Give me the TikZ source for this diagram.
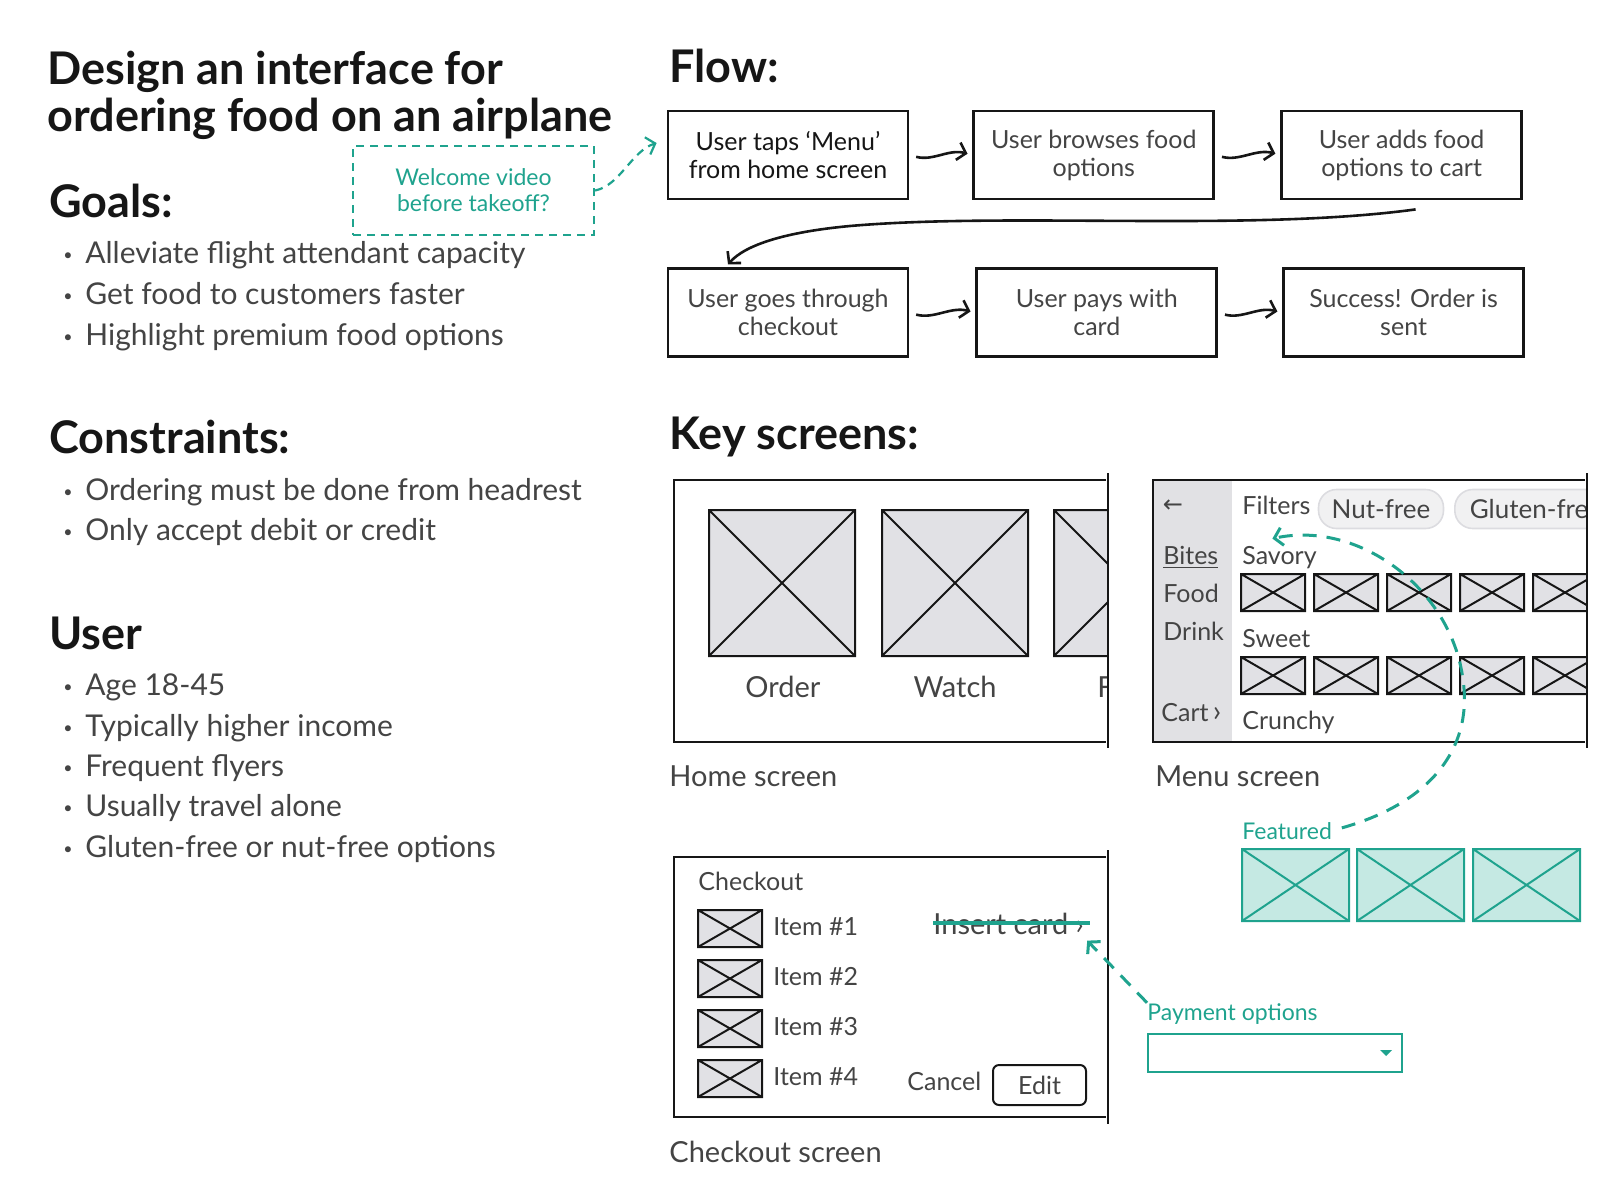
\documentclass[tikz,border=0pt]{standalone}
\usepackage{fontspec}
\setmainfont{Lato}
\newfontfamily\symbolfont{DejaVu Sans}
\usepackage{tikz}
\usetikzlibrary{arrows.meta,positioning,calc}
\definecolor{ink}{HTML}{161616}
\definecolor{softink}{HTML}{444444}
\definecolor{accentteal}{HTML}{1FA38E}
\definecolor{tealfill}{HTML}{C5E9E3}
\definecolor{thumbgray}{HTML}{E1E1E5}
\definecolor{sidegray}{HTML}{E1E1E4}
\definecolor{chipgray}{HTML}{F1F1F2}
\definecolor{chipline}{HTML}{DCDCE0}
\tikzset{
  heading/.style={anchor=base west, inner sep=0pt, text=ink, font=\fontsize{22.5}{27}\selectfont\bfseries},
  bulletitem/.style={anchor=base west, inner sep=0pt, text=softink, font=\fontsize{15}{18}\selectfont},
  screenlabel/.style={anchor=base west, inner sep=0pt, text=softink, font=\fontsize{14.5}{17}\selectfont},
  uitext/.style={anchor=base west, inner sep=0pt, text=softink, font=\fontsize{12.5}{15}\selectfont},
  tealtext/.style={anchor=base west, inner sep=0pt, text=accentteal, font=\fontsize{11.5}{14}\selectfont},
  flowbox/.style={draw=ink, line width=1.4pt, align=center, text=softink, inner sep=2pt, minimum width=120pt, minimum height=44pt, font=\fontsize{12.5}{14}\selectfont},
  notebox/.style={draw=accentteal, line width=1.1pt, dash pattern=on 4pt off 3pt, align=center, text=accentteal, font=\fontsize{11.5}{13}\selectfont},
  chip/.style={draw=chipline, fill=chipgray, line width=0.8pt, rounded corners=9pt, text=softink, minimum height=19.5pt, font=\fontsize{13}{15}\selectfont},
  button/.style={draw=ink, line width=1pt, rounded corners=3pt, text=softink, minimum width=46.5pt, minimum height=20pt, font=\fontsize{12.5}{15}\selectfont},
  dropbox/.style={draw=accentteal, line width=1pt, fill=white, minimum width=127pt, minimum height=19pt},
  flowarrow/.style={-{Straight Barb[length=4pt,width=9pt]}, line width=1.3pt, draw=ink},
  tealarrow/.style={-{Straight Barb[length=4pt,width=9pt]}, line width=1.5pt, draw=accentteal, dash pattern=on 7pt off 5pt},
  strike/.style={draw=accentteal, line width=2pt},
  frame/.style={draw=ink, line width=1.4pt},
  thumb/.style={draw=ink, fill=thumbgray, line width=1pt},
  featthumb/.style={draw=accentteal, fill=tealfill, line width=1pt}
}

\begin{document}
\begin{tikzpicture}[x=0.5pt, y=-0.5pt]
  \useasboundingbox (0,0) rectangle (1600,1200);

  % brief
  \node[heading] (title1) at (47,84) {Design an interface for};
  \node[heading] (title2) at (47,131) {ordering food on an airplane};

  \node[heading] (goals) at (49,217) {Goals:};
  \foreach \y/\txt [count=\i] in {263/Alleviate flight attendant capacity,304/Get food to customers faster,345/Highlight premium food options}
    \node[bulletitem] (goal\i) at (63,\y) {\makebox[11pt][l]{\raisebox{1.5pt}{\fontsize{8}{8}\selectfont\textbullet}}\txt};

  \node[heading] (constraints) at (49,453) {Constraints:};
  \foreach \y/\txt [count=\i] in {500/Ordering must be done from headrest,540/Only accept debit or credit}
    \node[bulletitem] (limit\i) at (63,\y) {\makebox[11pt][l]{\raisebox{1.5pt}{\fontsize{8}{8}\selectfont\textbullet}}\txt};

  \node[heading] (user) at (49,649) {User};
  \foreach \y/\txt [count=\i] in {695/Age 18-45,736/Typically higher income,776/Frequent flyers,816/Usually travel alone,857/Gluten-free or nut-free options}
    \node[bulletitem] (persona\i) at (63,\y) {\makebox[11pt][l]{\raisebox{1.5pt}{\fontsize{8}{8}\selectfont\textbullet}}\txt};

  \node[notebox, minimum width=120.5pt, minimum height=44.5pt] (welcome) at (473.5,190.5) {Welcome video\\before takeoff?};

  % flow
  \node[heading] (flow) at (669,82) {Flow:};
  \node[flowbox, text=ink] (taps) at (788,155) {User taps ‘Menu’\\from home screen};
  \node[flowbox, right=31.5pt of taps] (browse) {User browses food\\options};
  \node[flowbox, right=32.5pt of browse] (addcart) {User adds food\\options to cart};
  \node[flowbox, below=33.5pt of taps] (checkout) {User goes through\\checkout};
  \node[flowbox, right=33pt of checkout] (pays) {User pays with\\card};
  \node[flowbox, right=32pt of pays] (success) {Success! Order is\\sent};

  \draw[flowarrow, shorten <=3.5pt, shorten >=2.5pt] (taps.east) to[out=-15,in=165] (browse.west);
  \draw[flowarrow, shorten <=3.5pt, shorten >=2.5pt] (browse.east) to[out=-15,in=165] (addcart.west);
  \draw[flowarrow, shorten <=3.5pt, shorten >=2.5pt] (checkout.east) to[out=-15,in=165] (pays.west);
  \draw[flowarrow, shorten <=3.5pt, shorten >=2.5pt] (pays.east) to[out=-15,in=165] (success.west);
  \draw[flowarrow] ($(addcart.south)+(14,9)$) .. controls (1250,232) and (1010,212) .. (850,226)
    .. controls (785,232) and (745,245) .. ($(checkout.north)+(-60,-3)$);

  \draw[tealarrow, line width=1.1pt, dash pattern=on 4pt off 3pt] (welcome.east)
    .. controls +(25,-5) and +(-25,8) .. ($(taps.west)+(-10,-12)$);

  % key screens
  \node[heading] (keyscreens) at (669,449) {Key screens:};

  % home screen
  \begin{scope}
    \clip (674,470) rectangle (1108,750);
    \foreach \x in {709,882,1054}
      \draw[thumb] (\x,510) rectangle ++(146,146) (\x,510) -- ++(146,146) (\x+146,510) -- ++(-146,146);
    \node[screenlabel, anchor=base] (order) at (783,697) {Order};
    \node[screenlabel, anchor=base] (watch) at (955,697) {Watch};
    \node[screenlabel] (third) at (1097,697) {F};
  \end{scope}
  \draw[frame] (1106,480) -- (674,480) -- (674,742) -- (1106,742);
  \draw[frame] (1108,473) -- (1108,748);
  \node[screenlabel] (homelabel) at (669,786) {Home screen};

  % menu screen
  \fill[sidegray] (1153,480) rectangle (1232,742);
  \begin{scope}
    \clip (1153,470) rectangle (1587,750);
    \node[chip, minimum width=62.5pt] (nutfree) at (1381,509) {Nut-free};
    \node[chip, anchor=west, inner xsep=7.5pt] (glutenfree) at (1454,509) {Gluten-free};
    \foreach \y in {574,657}
      \foreach \x in {1241,1314,1387,1460,1533}
        \draw[thumb] (\x,\y) rectangle ++(64,37) (\x,\y) -- ++(64,37) (\x+64,\y) -- ++(-64,37);
  \end{scope}
  \node[text=softink, inner sep=0pt, font=\symbolfont\fontsize{12}{14}\selectfont] (back) at (1173,506) {←};
  \node[uitext] (bites) at (1163,564) {\underline{Bites}};
  \node[uitext] (food) at (1163,602) {Food};
  \node[uitext] (drink) at (1163,640) {Drink};
  \node[uitext] (cart) at (1161,721) {Cart\,{\fontsize{15}{15}\selectfont›}};
  \node[uitext] (filters) at (1242,514) {Filters};
  \node[uitext] (savory) at (1242,564) {Savory};
  \node[uitext] (sweet) at (1242,647) {Sweet};
  \node[uitext] (crunchy) at (1242,729) {Crunchy};
  \draw[frame] (1585,480) -- (1153,480) -- (1153,742) -- (1585,742);
  \draw[frame] (1587,473) -- (1587,748);
  \node[screenlabel] (menulabel) at (1155,786) {Menu screen};

  % checkout screen
  \node[uitext] (cotitle) at (698,890) {Checkout};
  \foreach \y [count=\i] in {910,960,1010,1060} {
    \draw[thumb] (698,\y) rectangle ++(64,37) (698,\y) -- ++(64,37) (762,\y) -- ++(-64,37);
    \node[uitext] (item\i) at (773,\y+25) {Item \#\i};
  }
  \node[uitext, font=\fontsize{14.5}{16}\selectfont] (insert) at (933,934) {Insert card ›};
  \draw[strike, shorten >=-3pt] (insert.west) -- (insert.east);
  \node[uitext] (cancel) at (907,1090) {Cancel};
  \node[button] (edit) at (1039.5,1085) {Edit};
  \draw[frame] (1106,857) -- (674,857) -- (674,1117) -- (1106,1117);
  \draw[frame] (1108,850) -- (1108,1124);
  \node[screenlabel] (colabel) at (669,1162) {Checkout screen};

  % featured and payment notes
  \node[tealtext] (featured) at (1242,839) {Featured};
  \foreach \x in {1242,1357,1473}
    \draw[featthumb] (\x,849) rectangle ++(107,72) (\x,849) -- ++(107,72) (\x+107,849) -- ++(-107,72);
  \draw[tealarrow, shorten <=5pt] (featured.east) .. controls (1440,800) and (1472,740) .. (1463,680)
    .. controls (1452,590) and (1360,520) .. ($(filters.south)+(-4,24)$);

  \node[tealtext] (paylabel) at (1147,1020) {Payment options};
  \node[dropbox] (paybox) at (1275,1053) {};
  \fill[accentteal] ($(paybox.east)+(-23,-3)$) -- ++(12,0) -- ++(-6,6) -- cycle;
  \draw[tealarrow] (paylabel.north west) -- ($(insert.south east)+(3,6)$);
\end{tikzpicture}
\end{document}
